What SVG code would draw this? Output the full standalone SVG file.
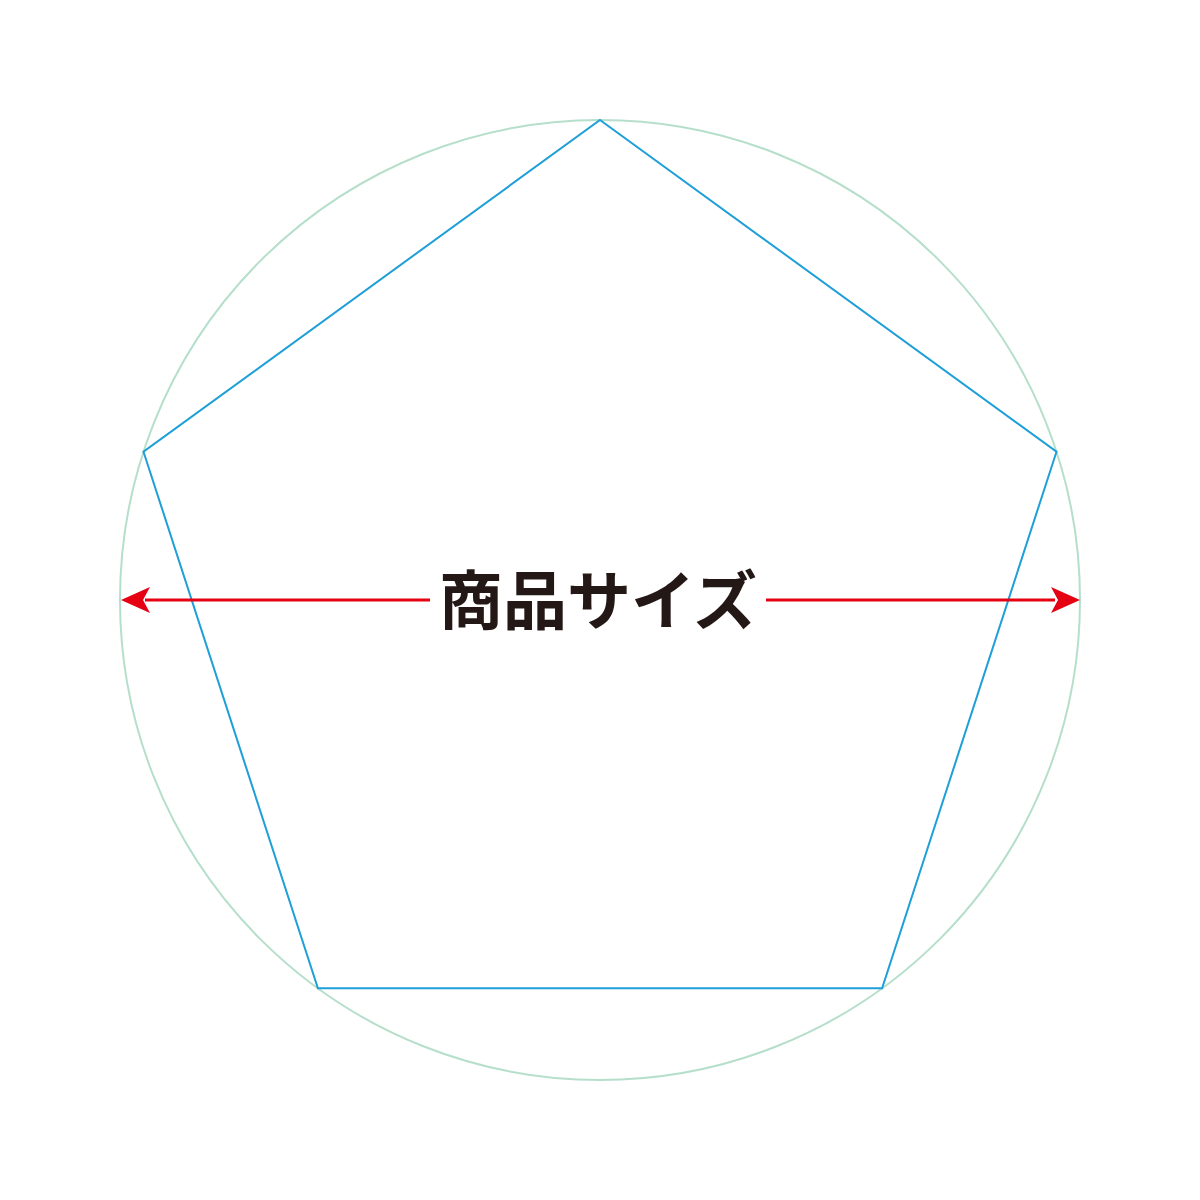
<svg xmlns="http://www.w3.org/2000/svg" width="1200" height="1200" viewBox="0 0 1200 1200">
<style>
.circ{fill:none;stroke:#b6dfcb;stroke-width:2}
.pent{fill:none;stroke:#1e9fd8;stroke-width:2}
.dim{stroke:#e50012;stroke-width:3;fill:none}
.head{fill:#e50012}
.lbl{font-family:"Noto Sans CJK JP","Noto Sans CJK SC",sans-serif;font-weight:bold;font-size:64px;fill:#231815}
</style>
<rect width="1200" height="1200" fill="#ffffff"/>
<g id="circle"><circle class="circ" cx="600" cy="600" r="480"/></g>
<g id="pentagon"><polygon class="pent" points="600,120 1056.5,451.7 882.1,988.3 317.9,988.3 143.5,451.7"/></g>
<g id="connectors">
<line class="dim" x1="145" y1="600" x2="430" y2="600"/>
<line class="dim" x1="766" y1="600" x2="1055" y2="600"/>
<polygon class="head" points="121,600 150,587 143,600 150,613"/>
<polygon class="head" points="1080,600 1051,587 1058,600 1051,613"/>
</g>
<g id="label"><text class="lbl" x="598" y="624" text-anchor="middle">商品サイズ</text></g>
</svg>
